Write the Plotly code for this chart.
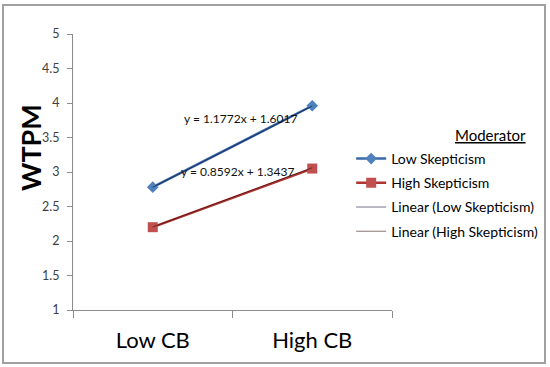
import plotly.graph_objects as go

categories = ["Low CB", "High CB"]
low_skep = [2.78, 3.96]
high_skep = [2.20, 3.05]
low_fit = [1.1772, 1.6017]   # slope, intercept
high_fit = [0.8592, 1.3437]
y_ticks = [1, 1.5, 2, 2.5, 3, 3.5, 4, 4.5, 5]

FONT = "Lato, Carlito, 'Noto Sans', sans-serif"
xs = [1, 2]
low_trend = [low_fit[0] * x + low_fit[1] for x in xs]
high_trend = [high_fit[0] * x + high_fit[1] for x in xs]

fig = go.Figure()
fig.add_trace(go.Scatter(x=categories, y=low_skep, name="Low Skepticism", mode="lines+markers",
                         line=dict(color="#3A68A8", width=2.5),
                         marker=dict(symbol="diamond", size=9, color="#4F81BD"),
                         legendgroup="a"))
fig.add_trace(go.Scatter(x=categories, y=high_skep, name="High Skepticism", mode="lines+markers",
                         line=dict(color="#AE3532", width=2.5),
                         marker=dict(symbol="square", size=10, color="#C0504D"),
                         legendgroup="b"))
fig.add_trace(go.Scatter(x=categories, y=low_trend, name="Linear (Low Skepticism)", mode="lines",
                         line=dict(color="rgba(0,0,40,0.55)", width=1), legendgroup="c"))
fig.add_trace(go.Scatter(x=categories, y=high_trend, name="Linear (High Skepticism)", mode="lines",
                         line=dict(color="rgba(40,0,0,0.55)", width=1), legendgroup="d"))

fig.update_layout(
    width=550, height=367,
    margin=dict(l=73, r=158, t=34, b=57, autoexpand=False),
    paper_bgcolor="white", plot_bgcolor="white",
    font=dict(family=FONT, color="#000000"),
    showlegend=True,
    legend=dict(x=0.872, xanchor="left", y=0.605, yanchor="top",
                font=dict(size=14, color="#000000"), tracegroupgap=3,
                itemwidth=30, bgcolor="rgba(0,0,0,0)"),
    xaxis=dict(type="category", range=[-0.5, 1.5], showline=True, linecolor="#8C8C8C", linewidth=1,
               ticks="outside", tickson="boundaries", ticklen=7, tickcolor="#8C8C8C",
               showgrid=False, zeroline=False, tickfont=dict(size=22, color="#000000"),
               ticklabelstandoff=11, automargin=False),
    yaxis=dict(range=[1, 5], tickvals=y_ticks, showline=True, linecolor="#8C8C8C", linewidth=1,
               ticks="outside", ticklen=5, tickcolor="#8C8C8C", showgrid=False, zeroline=False,
               tickfont=dict(size=12.5, color="#404040"), ticklabelstandoff=5, automargin=False),
    annotations=[
        dict(text="<b>WTPM</b>", x=30, y=148, textangle=-90, font=dict(size=27, color="#000000")),
        dict(text="<u>Moderator</u>", x=490, y=135, font=dict(size=15, color="#000000")),
        dict(text="y = 1.1772x + 1.6017", x=240, y=118, font=dict(size=12, color="#111111")),
        dict(text="y = 0.8592x + 1.3437", x=237, y=171, font=dict(size=12, color="#111111")),
    ],
)

# convert pixel positions of annotations into paper coordinates
L, R, T, B = 73, 550 - 158, 34, 367 - 57
def px(xp):
    return (xp - L) / (R - L)
def py(yp):
    return (B - yp) / (B - T)
for a in fig.layout.annotations:
    a.x = px(a.x)
    a.y = py(a.y)
    a.xref = "paper"
    a.yref = "paper"
    a.xanchor = "center"
    a.yanchor = "middle"
    a.showarrow = False

fig.add_shape(type="rect", xref="paper", yref="paper", x0=px(3), x1=px(545), y0=py(363), y1=py(5),
              line=dict(color="#A0A0A0", width=2), layer="below")

fig.write_html("out.html", config={"displayModeBar": False},
               post_script="document.body.style.margin='0';document.body.style.overflow='hidden';")
